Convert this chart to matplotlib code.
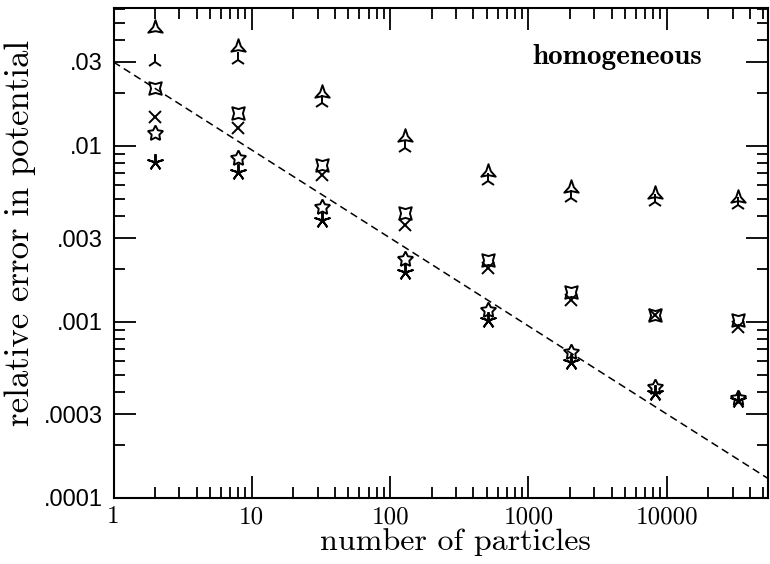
import numpy as np
import matplotlib
matplotlib.use("Agg")
import matplotlib.pyplot as plt
from matplotlib.path import Path

# ---- data ----
n_particles = [2, 8, 32, 128, 512, 2048, 8192, 32768]
err_arrow   = [0.0468, 0.0365, 0.0200, 0.01125, 0.00711, 0.00577, 0.00533, 0.00506]
err_tri     = [0.0300, 0.0308, 0.01754, 0.00973, 0.00632, 0.00506, 0.00481, 0.00462]
err_quad    = [0.0213, 0.01539, 0.0078, 0.00416, 0.00225, 0.00148, 0.001096, 0.001026]
err_cross   = [0.01462, 0.01265, 0.00684, 0.00356, 0.00203, 0.00133, 0.001096, 0.000935]
err_star    = [0.01185, 0.00855, 0.0045, 0.00228, 0.00117, 0.000675, 0.000427, 0.000370]
err_aster   = [0.0081, 0.00711, 0.00379, 0.00192, 0.001026, 0.000592, 0.000395, 0.000360]

ref_amp = 0.03          # reference N^-1/2 line amplitude at N=1
ref_exp = -0.5
ref_n = [1, 60000]

xtick_vals = [1, 10, 100, 1000, 10000]
xtick_labels = ["1", "10", "100", "1000", "10000"]
ytick_vals = [1e-4, 3e-4, 1e-3, 3e-3, 1e-2, 3e-2]
ytick_labels = [".0001", ".0003", ".001", ".003", ".01", ".03"]


def star_marker(npts, inner, rot_deg):
    verts = []
    for i in range(2 * npts):
        ang = np.deg2rad(90 + rot_deg + i * 180.0 / npts)
        r = 1.0 if i % 2 == 0 else inner
        verts.append((r * np.cos(ang), r * np.sin(ang)))
    verts.append(verts[0])
    codes = [Path.MOVETO] + [Path.LINETO] * (2 * npts - 1) + [Path.CLOSEPOLY]
    return Path(verts, codes)


arrow_marker = star_marker(3, 0.32, 0)
quad_marker = star_marker(4, 0.5, 45)

fig = plt.figure(figsize=(7.7, 5.64), dpi=100)
ax = fig.add_axes([113.5/770, 1-498/564, (768-113.5)/770, (498-8)/564])
ax.set_xscale("log")
ax.set_yscale("log")

rn = np.array(ref_n, dtype=float)
ax.plot(rn, ref_amp*rn**ref_exp, color="black", lw=1.1, ls=(0, (5, 3)), zorder=1)

mew = 1.4
common = dict(ls="none", color="black", mfc="none", mec="black", mew=mew, zorder=3, clip_on=False)
ax.plot(n_particles, err_arrow, marker=arrow_marker, ms=12, **common)
ax.plot(n_particles, err_tri, marker="2", ms=11.5, **common)
ax.plot(n_particles, err_quad, marker=quad_marker, ms=9, **common)
ax.plot(n_particles, err_cross, marker="x", ms=8.5, **common)
ax.plot(n_particles, err_star, marker=(5, 1, 0), ms=11.5, **common)
ax.plot(n_particles, err_aster, marker=(5, 2, 0), ms=12, **common)

ax.set_xlim(1, 54000)
ax.set_ylim(1e-4, 0.0608)

ax.set_xticks(xtick_vals)
ax.set_xticklabels(xtick_labels, fontfamily="cmr10", fontsize=18)
xminor = [m*10**k for k in range(0, 5) for m in range(2, 10) if m*10**k < 54000]
ax.set_xticks(xminor, minor=True)
ax.set_xticklabels([], minor=True)

ax.set_yticks(ytick_vals)
ax.set_yticklabels(ytick_labels, fontfamily="Liberation Sans", fontsize=17)
yminor = [m*10.0**k for k in range(-4, -1) for m in (2, 4, 5, 6, 7, 8, 9) if m*10.0**k < 0.0608]
ax.set_yticks(yminor, minor=True)
ax.set_yticklabels([], minor=True)

ax.tick_params(which="both", direction="in", top=True, right=True, width=1.3, color="black")
ax.tick_params(which="major", length=16, pad=8)
ax.tick_params(which="minor", length=8)
ax.tick_params(axis="x", which="major", pad=6)
for s in ax.spines.values():
    s.set_linewidth(1.5)

ax.set_xlabel("number of particles", fontfamily="cmr10", fontsize=23)
ax.xaxis.set_label_coords(0.523, -0.062)
ax.set_ylabel("relative error in potential", fontfamily="cmr10", fontsize=25)
ax.yaxis.set_label_coords(-0.118, 0.54)

ax.text(0.769, 0.9, "homogeneous", transform=ax.transAxes, ha="center", va="center",
        fontfamily="cmb10", fontsize=21)

fig.savefig("out.png", dpi=100)
